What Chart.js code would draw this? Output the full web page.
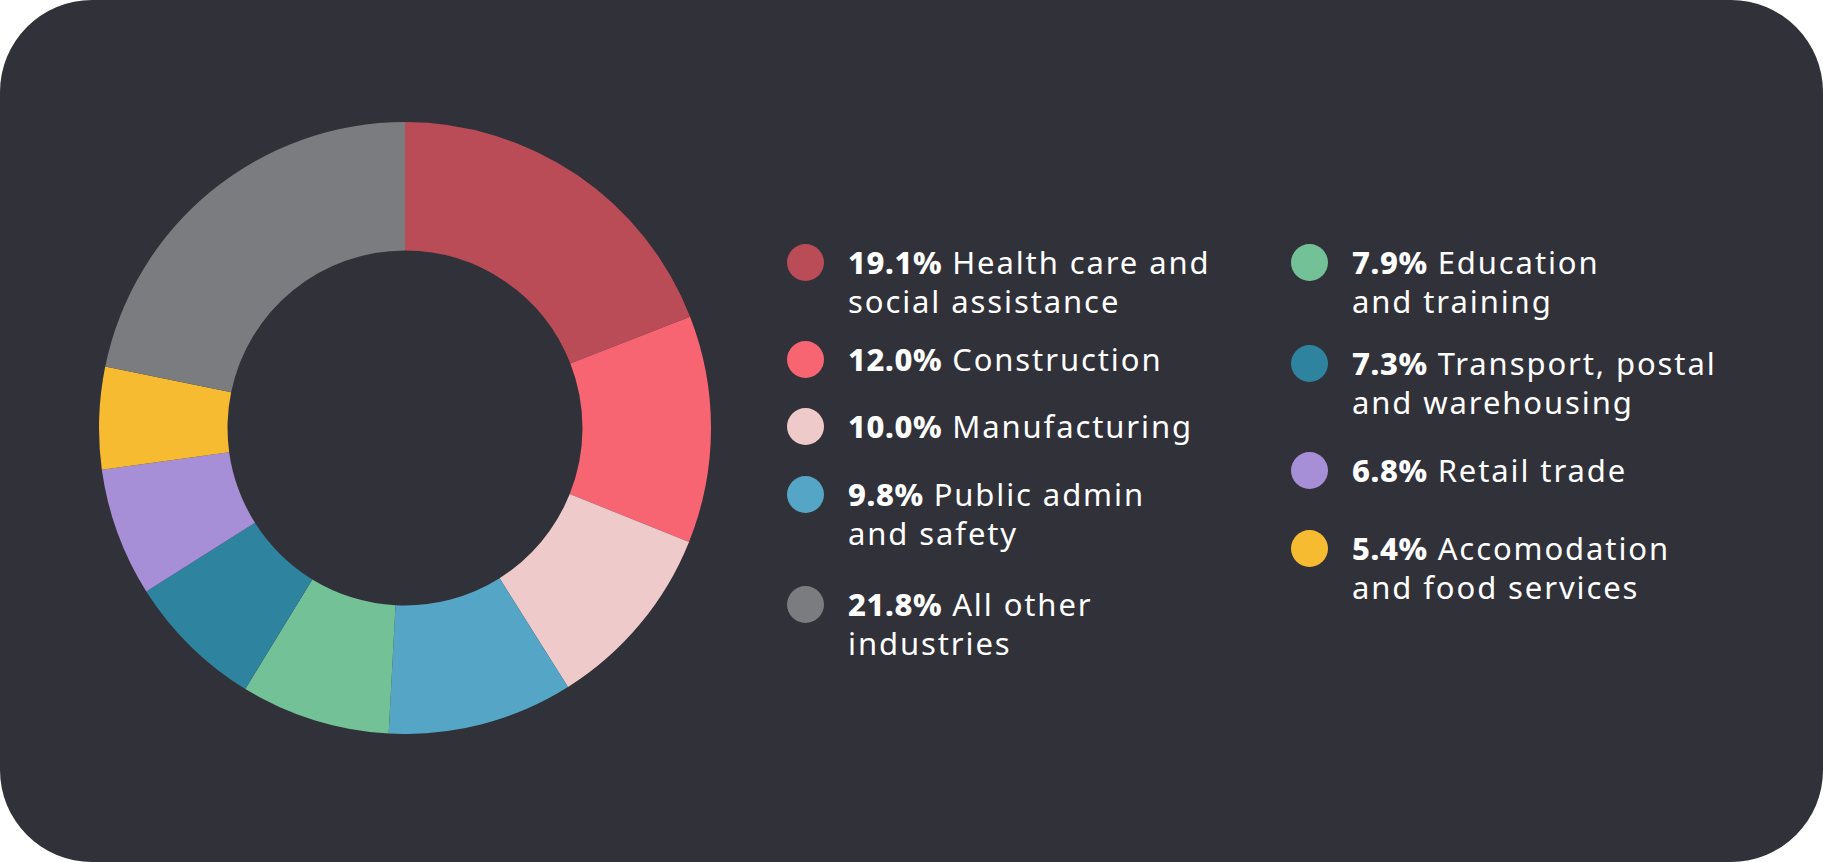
<!DOCTYPE html>
<html lang="en">
  <head>
    <meta charset="utf-8" />
    <title>Employment by industry</title>
    <style>
      * {
        margin: 0;
        padding: 0;
        box-sizing: border-box;
      }
      body {
        background: #ffffff;
        font-family: 'Noto Sans', sans-serif;
      }
      .card {
        position: relative;
        width: 1823px;
        height: 862px;
        background: #31313a;
        border-radius: 92px;
        overflow: hidden;
      }
      .chartBox {
        position: absolute;
        left: 99px;
        top: 122px;
        width: 612px;
        height: 612px;
      }
      .legendItem {
        position: absolute;
        color: #ffffff;
        font-size: 31px;
        line-height: 39px;
        letter-spacing: 1.9px;
        white-space: nowrap;
      }
      .legendItem .dot {
        position: absolute;
        left: -61px;
        top: 1px;
        width: 37px;
        height: 37px;
        border-radius: 50%;
      }
      .legendItem b {
        font-weight: 800;
        letter-spacing: 0.6px;
      }
    </style>
  </head>
  <body>
    <div class="card">
      <div class="chartBox">
        <canvas id="myChart"></canvas>
      </div>
      <div id="legend"></div>
    </div>
    <script src="https://cdn.jsdelivr.net/npm/chart.js"></script>
    <script>
      // data, clockwise from 12 o'clock
      const industries = [
        ['Health care and', 'social assistance'],
        ['Construction'],
        ['Manufacturing'],
        ['Public admin', 'and safety'],
        ['Education', 'and training'],
        ['Transport, postal', 'and warehousing'],
        ['Retail trade'],
        ['Accomodation', 'and food services'],
        ['All other', 'industries'],
      ];
      const shares = [19.1, 12.0, 10.0, 9.8, 7.9, 7.3, 6.8, 5.4, 21.8];
      const colours = ['#b94c57', '#f76572', '#efcaca', '#55a6c6', '#73c196', '#2e849f', '#a78fd8', '#f6bb31', '#7b7c80'];

      // legend layout: [index into data, left, top]
      const legendSpots = [
        [0, 848, 243],
        [1, 848, 340],
        [2, 848, 407],
        [3, 848, 475],
        [8, 848, 585],
        [4, 1352, 243],
        [5, 1352, 344],
        [6, 1352, 451],
        [7, 1352, 529],
      ];

      const legend = document.getElementById('legend');
      legendSpots.forEach(([i, x, y]) => {
        const item = document.createElement('div');
        item.className = 'legendItem';
        item.style.left = x + 'px';
        item.style.top = y + 'px';
        item.innerHTML =
          '<span class="dot" style="background:' + colours[i] + '"></span>' +
          '<b>' + shares[i].toFixed(1) + '%</b> ' + industries[i].join('<br>');
        legend.appendChild(item);
      });

      const config = {
        type: 'doughnut',
        data: {
          labels: industries.map((l) => l.join(' ')),
          datasets: [
            {
              data: shares,
              backgroundColor: colours,
              borderWidth: 0,
            },
          ],
        },
        options: {
          responsive: true,
          maintainAspectRatio: false,
          animation: false,
          cutout: '58%',
          layout: { padding: 0 },
          plugins: {
            legend: { display: false },
            tooltip: { enabled: false },
          },
        },
      };

      const myChart = new Chart(document.getElementById('myChart'), config);
    </script>
  </body>
</html>
